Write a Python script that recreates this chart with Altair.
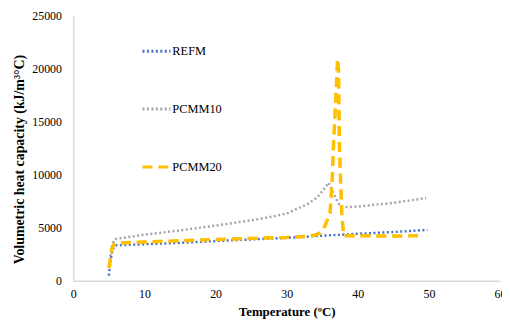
import altair as alt
import pandas as pd

series_names = ["REFM", "PCMM10", "PCMM20"]
series_colors = ["#4472C4", "#A5A5A5", "#FFC000"]
series_dashes = [[2, 2.5], [2, 2.5], [10, 6]]

refm_t = [5.0, 5.1, 5.3, 5.5, 5.8, 6.0, 10, 15, 20, 25, 30, 35, 40, 45, 49.8]
refm_v = [500, 1200, 2200, 2900, 3250, 3350, 3450, 3580, 3750, 3900, 4050, 4250, 4430, 4600, 4800]

pcmm10_t = [5.0, 5.2, 5.4, 5.7, 6.0, 10, 15, 20, 25, 28, 30, 31.5, 33, 34.3, 35.2, 35.9,
            36.6, 37.5, 38.4, 40, 45, 49.6]
pcmm10_v = [1500, 2300, 3200, 3800, 3950, 4350, 4750, 5200, 5700, 6050, 6350, 6800, 7250,
            7870, 8600, 9250, 8200, 7050, 6950, 7000, 7350, 7800]

pcmm20_t = [5.0, 5.2, 5.4, 5.7, 6.0, 10, 15, 20, 25, 30, 33, 34.0, 34.7, 35.4, 36.1, 36.4,
            36.6, 36.9, 37.15, 37.3, 37.4, 37.6, 37.75, 38.0, 39, 45, 48.6]
pcmm20_v = [1200, 2000, 3000, 3400, 3550, 3660, 3780, 3900, 4000, 4090, 4200, 4300, 4520,
            5200, 6400, 9500, 13100, 17000, 20900, 19900, 13100, 9000, 6400, 4250, 4250,
            4220, 4250]

rows = []
for name, ts, vs in zip(series_names, [refm_t, pcmm10_t, pcmm20_t],
                        [refm_v, pcmm10_v, pcmm20_v]):
    for t, v in zip(ts, vs):
        rows.append({"series": name, "T": t, "V": v})
df = pd.DataFrame(rows)

legend = alt.Legend(
    title=None,
    orient="none",
    legendX=68,
    legendY=20,
    symbolType="stroke",
    symbolSize=800,
    symbolStrokeWidth=3,
    rowPadding=35.5,
    labelFont="Liberation Serif",
    labelFontSize=12.5,
    labelColor="#000000",
    labelOffset=0,
)

x_enc = alt.X(
    "T:Q",
    scale=alt.Scale(domain=[0, 60], nice=False),
    axis=alt.Axis(values=[0, 10, 20, 30, 40, 50, 60], title="Temperature (ºC)",
                  labelFlush=False),
)
y_enc = alt.Y(
    "V:Q",
    scale=alt.Scale(domain=[0, 25000], nice=False),
    axis=alt.Axis(values=[0, 5000, 10000, 15000, 20000, 25000], format="d",
                  title="Volumetric heat capacity (kJ/m³°C)", titleX=-47, titleY=145,
                  titleFontSize=14),
)
color_scale = alt.Scale(domain=series_names, range=series_colors)
dash_scale = alt.Scale(domain=series_names, range=series_dashes)

base = alt.Chart(df)

lines = base.mark_line(strokeWidth=2.5).encode(
    x=x_enc,
    y=y_enc,
    color=alt.Color("series:N", scale=color_scale, legend=legend, sort=series_names),
    strokeDash=alt.StrokeDash("series:N", scale=dash_scale, legend=legend, sort=series_names),
)

thick = base.transform_filter(alt.datum.series == "PCMM20").mark_line(
    strokeWidth=3.5
).encode(
    x=x_enc,
    y=y_enc,
    color=alt.Color("series:N", scale=color_scale, legend=None),
    strokeDash=alt.StrokeDash("series:N", scale=dash_scale, legend=None),
)

chart = (
    alt.layer(lines, thick)
    .properties(
        width=431,
        height=268,
        autosize=alt.AutoSizeParams(type="none"),
        padding={"left": 66, "top": 6, "right": 2, "bottom": 40},
    )
    .configure_view(stroke=None)
    .configure_axis(
        grid=False,
        ticks=False,
        domainColor="#D9D9D9",
        domainWidth=1.5,
        labelFont="Liberation Serif",
        labelFontSize=12,
        labelColor="#000000",
        titleFont="Liberation Serif",
        titleFontSize=13,
        titleFontWeight="bold",
        titleColor="#000000",
    )
    .configure_axisX(labelPadding=8, titlePadding=6)
    .configure_axisY(labelPadding=12)
)

chart.save("out.html", embed_options={"renderer": "svg", "actions": False})
